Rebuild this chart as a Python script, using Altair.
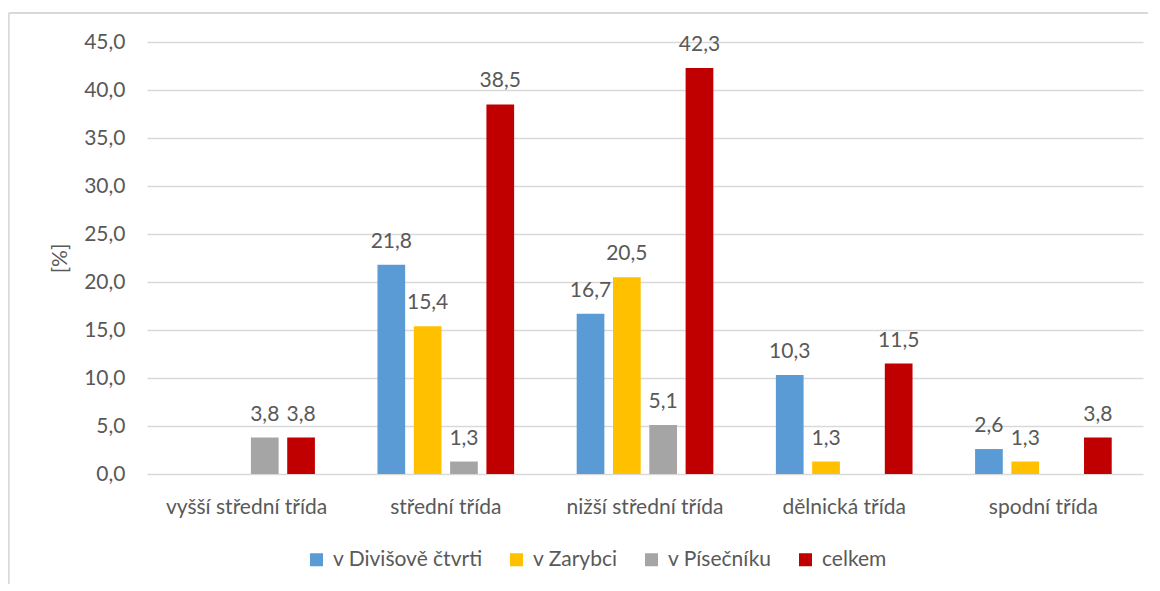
import altair as alt
import pandas as pd

categories = ["vyšší střední třída", "střední třída", "nižší střední třída", "dělnická třída", "spodní třída"]
series = ["v Divišově čtvrti", "v Zarybci", "v Písečníku", "celkem"]
colors = ["#5B9BD5", "#FFC000", "#A5A5A5", "#C00000"]

v_divisove = [None, 21.8, 16.7, 10.3, 2.6]
v_zarybci = [None, 15.4, 20.5, 1.3, 1.3]
v_pisecniku = [3.8, 1.3, 5.1, None, None]
celkem = [3.8, 38.5, 42.3, 11.5, 3.8]

y_ticks = [0, 5, 10, 15, 20, 25, 30, 35, 40, 45]

rows = []
for s, vals in zip(series, [v_divisove, v_zarybci, v_pisecniku, celkem]):
    for c, v in zip(categories, vals):
        if v is not None:
            rows.append({"kat": c, "serie": s, "hodnota": v})
df = pd.DataFrame(rows)

FONT = "Lato"
TXT = "#595959"
GRID = "#D9D9D9"

x_enc = alt.X("kat:N", sort=categories,
              scale=alt.Scale(domain=categories, paddingInner=0.314, paddingOuter=0.157),
              axis=alt.Axis(title=None, labelAngle=0, domain=False, ticks=False,
                            labelPadding=22, labelFontSize=21, labelColor=TXT,
                            labelFont=FONT, grid=False))
xo_enc = alt.XOffset("serie:N", sort=series,
                     scale=alt.Scale(domain=series, paddingInner=0.237, paddingOuter=0))
y_enc = alt.Y("hodnota:Q",
              scale=alt.Scale(domain=[0, 45], nice=False, zero=True),
              axis=alt.Axis(values=y_ticks, title="[%]", domain=False, ticks=False,
                            labelExpr="replace(format(datum.value, '.1f'), '.', ',')",
                            labelPadding=22, labelFontSize=21, labelColor=TXT, labelFont=FONT,
                            titleFontSize=21, titleColor=TXT, titleFont=FONT,
                            titleFontWeight="normal", titleX=-87, titleY=216,
                            titleAngle=-90, titleAlign="center", titleBaseline="middle",
                            grid=True, gridColor=GRID, gridWidth=1.5))

color_enc = alt.Color("serie:N", sort=series,
                      scale=alt.Scale(domain=series, range=colors),
                      legend=alt.Legend(title=None, orient="none", direction="horizontal",
                                        legendX=159, legendY=507, padding=0,
                                        symbolType="square", symbolSize=169,
                                        symbolStrokeWidth=0, labelOffset=6,
                                        columnPadding=23, labelFontSize=21,
                                        labelColor=TXT, labelFont=FONT, labelLimit=400))

bars = alt.Chart(df).mark_bar().encode(
    x=x_enc, xOffset=xo_enc, y=y_enc, color=color_enc
)

labels = alt.Chart(df).transform_calculate(
    popis="replace(format(datum.hodnota, '.1f'), '.', ',')"
).mark_text(baseline="alphabetic", dy=-17, fontSize=21, font=FONT, color=TXT).encode(
    x=alt.X("kat:N", sort=categories), xOffset=alt.XOffset("serie:N", sort=series),
    y="hodnota:Q", text="popis:N"
)

frame_df = pd.DataFrame({"a": [0]})
frame_top = alt.Chart(frame_df).mark_rule(color=GRID, strokeWidth=2).encode(
    x=alt.value(-138.3), x2=alt.value(1200), y=alt.value(-29)
)
frame_left = alt.Chart(frame_df).mark_rule(color=GRID, strokeWidth=2).encode(
    x=alt.value(-138.3), y=alt.value(-29), y2=alt.value(700)
)

chart = alt.layer(bars, labels, frame_top, frame_left).properties(
    width=996, height=432,
    autosize=alt.AutoSizeParams(type="none"),
    padding={"left": 139, "top": 34, "right": 5, "bottom": 110},
).configure_view(stroke=None)

chart.save("out.html", embed_options={"renderer": "svg", "actions": False})
